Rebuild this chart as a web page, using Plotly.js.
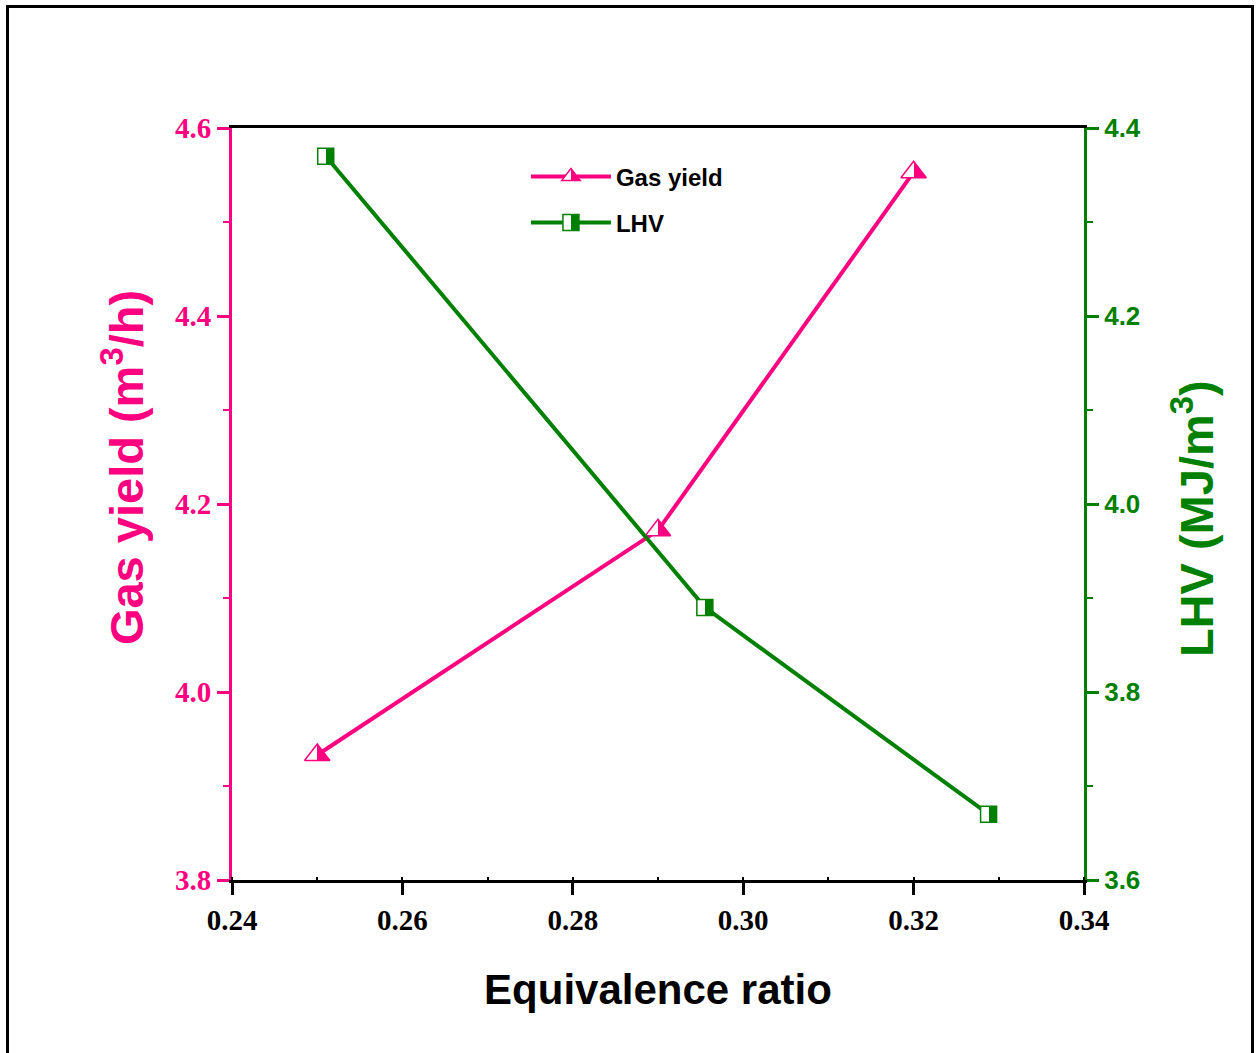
<!DOCTYPE html>
<html>
<head>
<meta charset="utf-8">
<script src="https://cdn.plot.ly/plotly-3.0.1.min.js"></script>
<style>
html,body{margin:0;padding:0;background:#fff;}
#wrap{position:relative;width:1257px;height:1053px;}
#chart{position:absolute;left:0;top:0;width:1257px;height:1053px;}
#frame{position:absolute;left:6px;top:5px;width:1248px;height:1060px;border:3px solid #000;pointer-events:none;box-sizing:border-box;}
</style>
</head>
<body>
<div id="wrap"><div id="chart"></div><div id="frame"></div></div>
<script>
// Data
const gasX = [0.25, 0.29, 0.32];
const gasYield = [3.933, 4.172, 4.553];
const lhvX = [0.251, 0.2955, 0.3288];
const lhv = [4.37, 3.89, 3.67];
const xTicks = [0.24, 0.26, 0.28, 0.30, 0.32, 0.34];
const xTickText = ['0.24', '0.26', '0.28', '0.30', '0.32', '0.34'];
const leftTicks = [3.8, 4.0, 4.2, 4.4, 4.6];
const leftTickText = ['3.8', '4.0', '4.2', '4.4', '4.6'];
const rightTicks = [3.6, 3.8, 4.0, 4.2, 4.4];
const rightTickText = ['3.6', '3.8', '4.0', '4.2', '4.4'];
const xTitle = 'Equivalence ratio';
const leftTitle = 'Gas yield (m<sup>3</sup>/h)';
const rightTitle = 'LHV (MJ/m<sup>3</sup>)';

const PINK = '#ff0080';
const GREEN = '#008000';
const bold = t => '<b>' + t + '</b>';

const traces = [
  {
    x: gasX, y: gasYield, name: bold('Gas yield'), type: 'scatter', mode: 'lines+markers',
    legendgroup: 'g1',
    line: {color: PINK, width: 4},
    marker: {symbol: 'triangle-up', size: 22, color: '#ffffff',
             gradient: {type: 'horizontal', color: PINK},
             line: {color: PINK, width: 1.5}},
    xaxis: 'x', yaxis: 'y'
  },
  {
    x: lhvX, y: lhv, name: bold('LHV'), type: 'scatter', mode: 'lines+markers',
    legendgroup: 'g2',
    line: {color: GREEN, width: 4},
    marker: {symbol: 'square', size: 16, color: '#ffffff',
             gradient: {type: 'horizontal', color: GREEN},
             line: {color: GREEN, width: 1.5}},
    xaxis: 'x', yaxis: 'y2'
  }
];

const SANS = 'Liberation Sans, Arial, sans-serif';
const SERIF = 'Liberation Serif, Times New Roman, serif';

const layout = {
  width: 1257, height: 1053,
  margin: {l: 232, r: 173, t: 128, b: 173, pad: 0},
  paper_bgcolor: 'rgba(0,0,0,0)', plot_bgcolor: '#ffffff',
  showlegend: true,
  legend: {x: 0.345, y: 0.965, xanchor: 'left', yanchor: 'top',
           font: {family: SANS, size: 24, color: '#000'},
           bgcolor: 'rgba(0,0,0,0)', itemwidth: 80, tracegroupgap: 12, traceorder: 'grouped'},
  xaxis: {
    range: [0.24, 0.34], tickvals: xTicks, ticktext: xTickText.map(bold),
    showgrid: false, zeroline: false,
    showline: true, linecolor: '#000', linewidth: 3, mirror: true,
    ticks: 'outside', ticklen: 12, tickwidth: 3, tickcolor: '#000',
    minor: {ticks: 'inside', ticklen: 3, tickwidth: 2, dtick: 0.01, tickcolor: '#000', showgrid: false},
    tickfont: {family: SERIF, size: 29, color: '#000'},
    title: {text: bold(xTitle), standoff: 40,
            font: {family: SANS, size: 42, color: '#000'}}
  },
  yaxis: {
    range: [3.8, 4.6], tickvals: leftTicks, ticktext: leftTickText.map(bold),
    showgrid: false, zeroline: false,
    showline: true, linecolor: PINK, linewidth: 3,
    ticks: 'outside', ticklen: 12, tickwidth: 3, tickcolor: PINK,
    minor: {ticks: 'outside', ticklen: 6, tickwidth: 2, dtick: 0.1, tickcolor: PINK, showgrid: false},
    tickfont: {family: SERIF, size: 29, color: PINK}
  },
  yaxis2: {
    range: [3.6, 4.4], tickvals: rightTicks, ticktext: rightTickText.map(bold),
    overlaying: 'y', side: 'right', anchor: 'x',
    showgrid: false, zeroline: false,
    showline: true, linecolor: GREEN, linewidth: 3,
    ticks: 'outside', ticklen: 12, tickwidth: 3, tickcolor: GREEN,
    minor: {ticks: 'outside', ticklen: 6, tickwidth: 2, dtick: 0.1, tickcolor: GREEN, showgrid: false},
    tickfont: {family: SANS, size: 26, color: GREEN}
  },
  annotations: [
    {text: bold(leftTitle), xref: 'paper', yref: 'paper', x: -0.128, y: 0.549,
     xanchor: 'center', yanchor: 'middle', textangle: -90, showarrow: false,
     font: {family: SANS, size: 47, color: PINK}},
    {text: bold(rightTitle), xref: 'paper', yref: 'paper', x: 1.128, y: 0.480,
     xanchor: 'center', yanchor: 'middle', textangle: -90, showarrow: false,
     font: {family: SANS, size: 47, color: GREEN}}
  ]
};

function hardSplit() {
  document.querySelectorAll('linearGradient').forEach(function (g) {
    g.querySelectorAll('stop').forEach(function (s) { s.setAttribute('offset', '50%'); });
  });
}

Plotly.newPlot('chart', traces, layout, {displayModeBar: false, staticPlot: true}).then(function (gd) {
  hardSplit();
  gd.on('plotly_afterplot', hardSplit);
});
</script>
</body>
</html>
